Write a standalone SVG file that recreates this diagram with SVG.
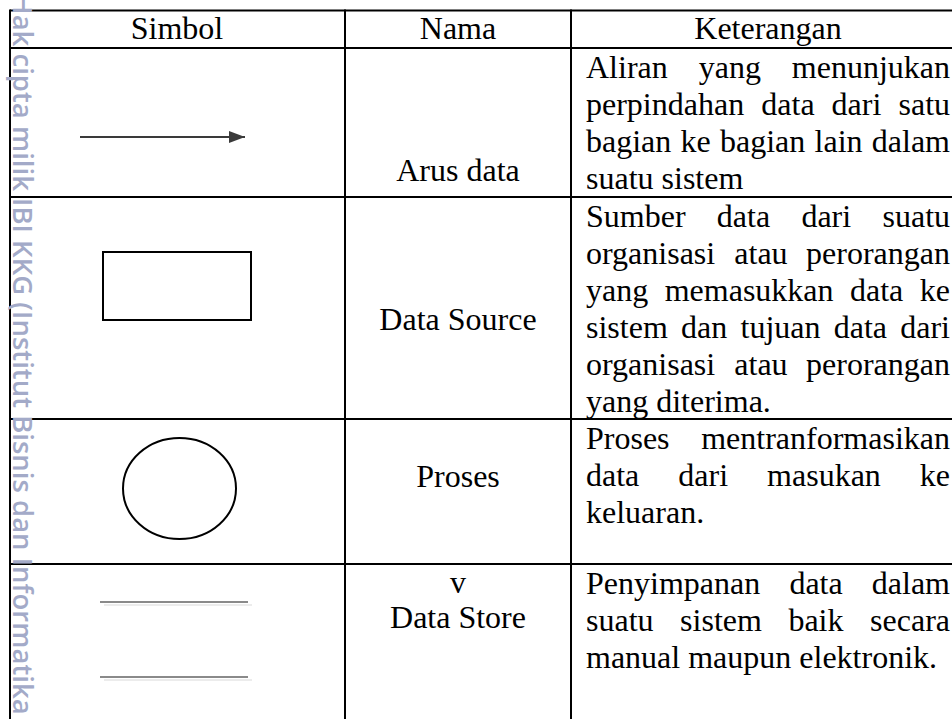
<svg xmlns="http://www.w3.org/2000/svg" width="952" height="719" viewBox="0 0 952 719">
  <defs>
    <style>
      .t { font-family: "Liberation Serif", "Times New Roman", serif; font-size: 32px; fill: #000; }
      .c { text-anchor: middle; }
      .grid { stroke: #000; stroke-width: 2; fill: none; }
      .wm { font-family: "Open Sans", "Noto Sans", sans-serif; font-weight: 600; font-size: 27.5px; fill: #a3aac8; }
      .sym { stroke: #000; stroke-width: 2; fill: none; }
      .store { stroke: #8a8a8a; stroke-width: 2; }
      .storeShade { stroke: #ececec; stroke-width: 2; }
    </style>
    <marker id="arrowHead" markerWidth="16" markerHeight="12" refX="16" refY="6" orient="auto" markerUnits="userSpaceOnUse">
      <path d="M0,0 L16,6 L0,12 Z" fill="#3a3a3a"/>
    </marker>
  </defs>

  <rect width="952" height="719" fill="#fff"/>

  <!-- table grid -->
  <g id="table-grid" class="grid">
    <line x1="10" y1="10.5" x2="952" y2="10.5"/>
    <line x1="10" y1="48" x2="952" y2="48"/>
    <line x1="10" y1="197" x2="952" y2="197"/>
    <line x1="10" y1="419" x2="952" y2="419"/>
    <line x1="10" y1="564" x2="952" y2="564"/>
    <line x1="10" y1="9.5" x2="10" y2="719"/>
    <line x1="345" y1="9.5" x2="345" y2="719"/>
    <line x1="571" y1="9.5" x2="571" y2="719"/>
  </g>

  <!-- header -->
  <g id="header">
    <text class="t c" x="177" y="39">Simbol</text>
    <text class="t c" x="458" y="39">Nama</text>
    <text class="t c" x="768" y="39">Keterangan</text>
  </g>

  <!-- row 1: data flow -->
  <g id="row-arus-data">
    <g id="connectors">
      <line x1="80" y1="137" x2="245" y2="137" stroke="#3a3a3a" stroke-width="2" marker-end="url(#arrowHead)"/>
    </g>
    <text class="t c" x="458" y="181">Arus data</text>
    <text class="t" y="78"><tspan x="586">Aliran</tspan><tspan x="698.7">yang</tspan><tspan x="791.8">menunjukan</tspan></text>
    <text class="t" y="115"><tspan x="586">perpindahan</tspan><tspan x="761.3">data</tspan><tspan x="831.6">dari</tspan><tspan x="898.5">satu</tspan></text>
    <text class="t" y="152"><tspan x="586">bagian</tspan><tspan x="680.6">ke</tspan><tspan x="720">bagian</tspan><tspan x="814.6">lain</tspan><tspan x="871.8">dalam</tspan></text>
    <text class="t" x="586" y="189">suatu sistem</text>
  </g>

  <!-- row 2: data source -->
  <g id="row-data-source">
    <rect class="sym" x="103" y="252" width="148" height="68"/>
    <text class="t c" x="458" y="330">Data Source</text>
    <text class="t" y="227"><tspan x="586">Sumber</tspan><tspan x="716.8">data</tspan><tspan x="801.4">dari</tspan><tspan x="882.5">suatu</tspan></text>
    <text class="t" y="264"><tspan x="586">organisasi</tspan><tspan x="734.3">atau</tspan><tspan x="806.1">perorangan</tspan></text>
    <text class="t" y="301"><tspan x="586">yang</tspan><tspan x="664.7">memasukkan</tspan><tspan x="850">data</tspan><tspan x="919.8">ke</tspan></text>
    <text class="t" y="338"><tspan x="586">sistem</tspan><tspan x="681">dan</tspan><tspan x="740.5">tujuan</tspan><tspan x="833.7">data</tspan><tspan x="900.2">dari</tspan></text>
    <text class="t" y="375"><tspan x="586">organisasi</tspan><tspan x="734.3">atau</tspan><tspan x="806.1">perorangan</tspan></text>
    <text class="t" x="586" y="412">yang diterima.</text>
  </g>

  <!-- row 3: process -->
  <g id="row-proses">
    <ellipse class="sym" cx="179.5" cy="488.5" rx="56.5" ry="50.5"/>
    <text class="t c" x="458" y="487">Proses</text>
    <text class="t" y="449"><tspan x="586">Proses</tspan><tspan x="701.2">mentranformasikan</tspan></text>
    <text class="t" y="486"><tspan x="586">data</tspan><tspan x="678.3">dari</tspan><tspan x="767.1">masukan</tspan><tspan x="919.8">ke</tspan></text>
    <text class="t" x="586" y="523">keluaran.</text>
  </g>

  <!-- row 4: data store -->
  <g id="row-data-store">
    <line class="storeShade" x1="104" y1="605" x2="252" y2="605"/>
    <line class="store" x1="100" y1="602" x2="248" y2="602"/>
    <line class="storeShade" x1="104" y1="680" x2="252" y2="680"/>
    <line class="store" x1="100" y1="677" x2="248" y2="677"/>
    <text class="t c" x="458" y="593">v</text>
    <text class="t c" x="458" y="628">Data Store</text>
    <text class="t" y="594"><tspan x="586">Penyimpanan</tspan><tspan x="789.4">data</tspan><tspan x="871.8">dalam</tspan></text>
    <text class="t" y="631"><tspan x="586">suatu</tspan><tspan x="680.1">sistem</tspan><tspan x="788.4">baik</tspan><tspan x="870.1">secara</tspan></text>
    <text class="t" x="586" y="668">manual maupun elektronik.</text>
  </g>

  <!-- vertical side caption -->
  <g id="side-caption">
    <text class="wm" transform="translate(13,-6) rotate(90)">Hak cipta milik IBI KKG (Institut Bisnis dan Informatika</text>
  </g>
</svg>
